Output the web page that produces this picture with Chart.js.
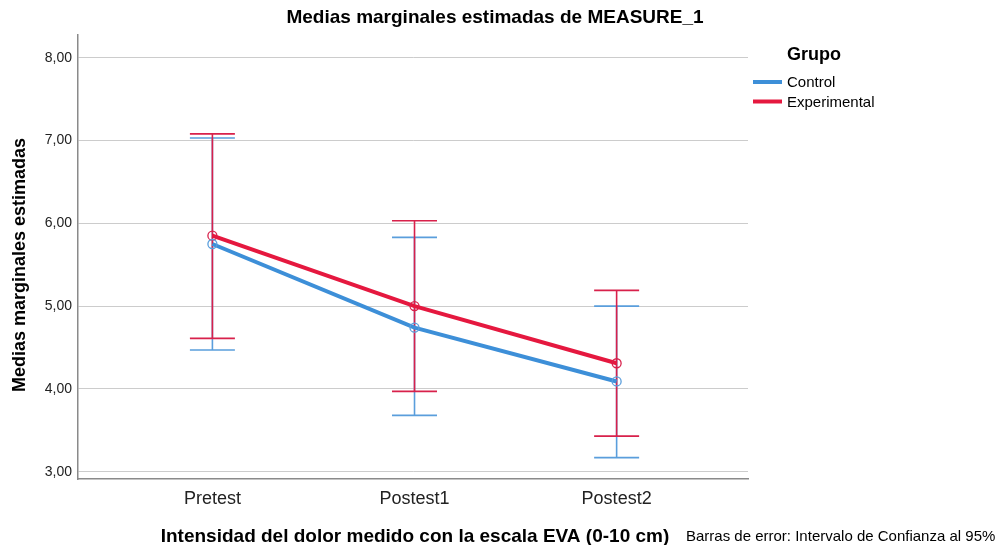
<!DOCTYPE html>
<html>
<head>
<meta charset="utf-8">
<script src="https://cdn.jsdelivr.net/npm/chart.js@4.4.1/dist/chart.umd.min.js"></script>
<style>
  html, body { margin: 0; padding: 0; background: #fff; }
  #wrap { position: relative; width: 1003px; height: 545px; }
</style>
</head>
<body>
<div id="wrap"><canvas id="chart" width="1003" height="545"></canvas></div>
<script>
const categories = ['Pretest', 'Postest1', 'Postest2'];
const yTicks = [3, 4, 5, 6, 7, 8];

const controlMean = [5.75, 4.74, 4.09];
const controlLower = [4.47, 3.68, 3.17];
const controlUpper = [7.03, 5.83, 5.00];

const expMean = [5.85, 5.00, 4.31];
const expLower = [4.61, 3.97, 3.43];
const expUpper = [7.08, 6.03, 5.19];

const FONT = '"Liberation Sans", Arial, sans-serif';

const groups = [
  { label: 'Control', mean: controlMean, lower: controlLower, upper: controlUpper,
    line: '#3d8fd8', bar: '#5a9edc' },
  { label: 'Experimental', mean: expMean, lower: expLower, upper: expUpper,
    line: '#e5183f', bar: '#d8214b' },
];

// confidence interval whiskers, drawn under the mean lines
const errorBars = {
  id: 'errorBars',
  beforeDatasetsDraw(chart) {
    const { ctx, scales: { x, y } } = chart;
    ctx.save();
    ctx.lineWidth = 1.6;
    groups.forEach((g) => {
      ctx.strokeStyle = g.bar;
      g.mean.forEach((_, i) => {
        const px = x.getPixelForValue(i);
        const top = y.getPixelForValue(g.upper[i]);
        const bot = y.getPixelForValue(g.lower[i]);
        ctx.beginPath();
        ctx.moveTo(px, top); ctx.lineTo(px, bot);
        ctx.moveTo(px - 22.5, top); ctx.lineTo(px + 22.5, top);
        ctx.moveTo(px - 22.5, bot); ctx.lineTo(px + 22.5, bot);
        ctx.stroke();
      });
    });
    ctx.restore();
  },
};

// titles, legend and footnote
const annotations = {
  id: 'annotations',
  afterDraw(chart) {
    const { ctx } = chart;
    ctx.save();
    ctx.fillStyle = '#000';
    ctx.textBaseline = 'middle';

    ctx.font = 'bold 19px ' + FONT;
    ctx.textAlign = 'center';
    ctx.fillText('Medias marginales estimadas de MEASURE_1', 495, 18);
    ctx.fillText('Intensidad del dolor medido con la escala EVA (0-10 cm)', 415, 537);

    ctx.save();
    ctx.font = 'bold 18px ' + FONT;
    ctx.translate(20, 265);
    ctx.rotate(-Math.PI / 2);
    ctx.fillText('Medias marginales estimadas', 0, 0);
    ctx.restore();

    ctx.font = '15px ' + FONT;
    ctx.textAlign = 'left';
    ctx.fillText('Barras de error: Intervalo de Confianza al 95%', 686, 537);

    ctx.font = 'bold 18px ' + FONT;
    ctx.fillText('Grupo', 787, 55);
    ctx.font = '15px ' + FONT;
    groups.forEach((g, i) => {
      const ly = 82 + i * 19.5;
      ctx.strokeStyle = g.line;
      ctx.lineWidth = 4;
      ctx.beginPath();
      ctx.moveTo(753, ly); ctx.lineTo(782, ly);
      ctx.stroke();
      ctx.fillText(g.label, 787, ly + 1);
    });
    ctx.restore();
  },
};

new Chart(document.getElementById('chart'), {
  type: 'line',
  data: {
    datasets: groups.map((g) => ({
      label: g.label,
      data: g.mean.map((v, i) => ({ x: i, y: v })),
      borderColor: g.line,
      borderWidth: 4,
      tension: 0,
      pointRadius: 4.5,
      pointBorderWidth: 1.3,
      pointBorderColor: g.bar,
      pointBackgroundColor: 'rgba(255,255,255,0)',
    })),
  },
  options: {
    responsive: false,
    animation: false,
    layout: { padding: { left: 0, top: 35, right: 255, bottom: 0 } },
    plugins: {
      legend: { display: false },
      title: { display: false },
      tooltip: { enabled: false },
    },
    scales: {
      x: {
        type: 'linear',
        min: -0.665,
        max: 2.65,
        afterFit: (s) => { s.height = 66; },
        afterBuildTicks: (s) => { s.ticks = categories.map((_, i) => ({ value: i })); },
        ticks: {
          callback: (v) => categories[v],
          font: { family: FONT, size: 18 },
          color: '#222',
          padding: 9,
          maxRotation: 0,
        },
        grid: { display: false, drawTicks: false },
        border: { display: true, color: '#8a8a8a', width: 1.5 },
      },
      y: {
        min: 2.912,
        max: 8.274,
        afterFit: (s) => { s.width = 78; },
        afterBuildTicks: (s) => { s.ticks = yTicks.map((v) => ({ value: v })); },
        ticks: {
          callback: (v) => v.toFixed(2).replace('.', ','),
          font: { family: FONT, size: 14 },
          color: '#222',
          padding: 6,
        },
        grid: { color: '#cccccc', lineWidth: 1, drawTicks: false },
        border: { display: true, color: '#8a8a8a', width: 1.5 },
      },
    },
  },
  plugins: [errorBars, annotations],
});
</script>
</body>
</html>
